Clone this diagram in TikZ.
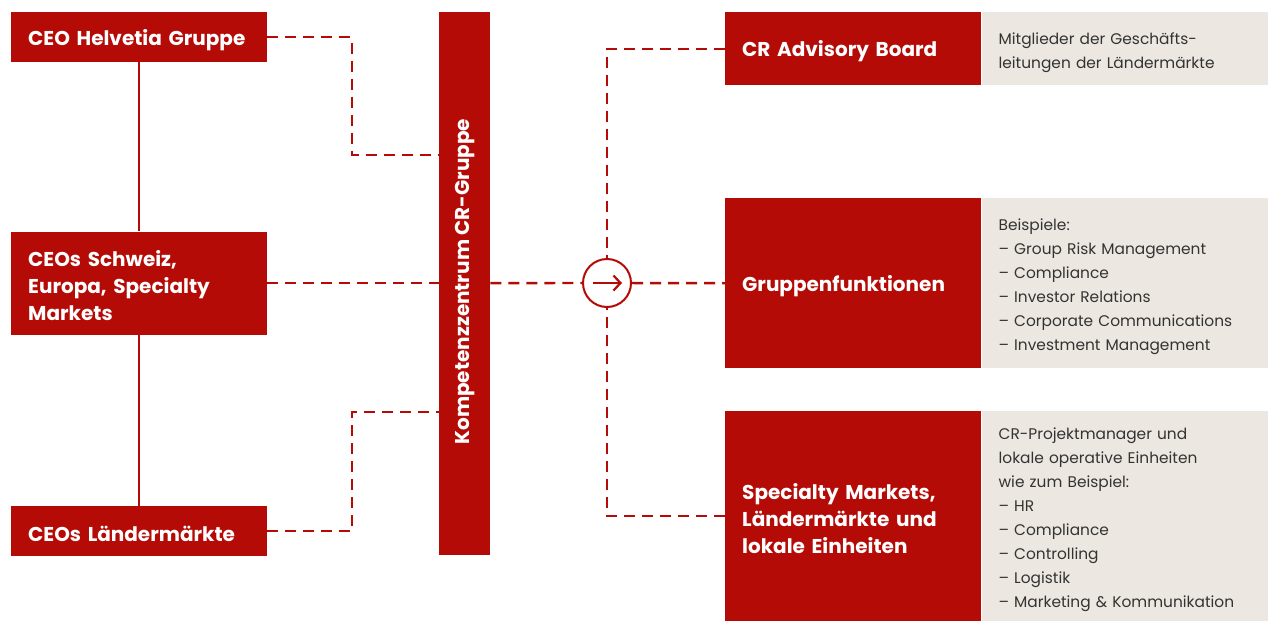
\documentclass[tikz,border=0pt]{standalone}
\usepackage{fontspec}
\setmainfont{Poppins}
\usetikzlibrary{arrows.meta,positioning}
\definecolor{hred}{HTML}{B50B07}
\definecolor{hsand}{HTML}{ECE8E1}
\definecolor{hink}{HTML}{333333}

\begin{document}
\begin{tikzpicture}[x=1pt,y=-1pt,
 org/.style={fill=hred,text=white,font=\fontsize{20}{27}\selectfont\bfseries,inner xsep=17pt,inner ysep=0pt,text width=222pt,align=left,execute at begin node={\rule{0pt}{21pt}}},
 note/.style={fill=hsand,text=hink,font=\fontsize{15.4}{24}\selectfont,inner xsep=17pt,inner ysep=0pt,text width=253pt,align=left,execute at begin node={\rule{0pt}{19.5pt}}},
 dsh/.style={draw=hred,line width=2.4pt,dash pattern=on 11pt off 7pt},
 tie/.style={draw=hred,line width=2pt}]
\useasboundingbox (0,0) rectangle (1268,621);
% left column
\node[org,minimum height=50pt,anchor=north west] (ceo) at (11,12) {CEO Helvetia Gruppe};
\node[org,minimum height=103pt,below=169pt of ceo] (reg) {CEOs Schweiz,\\Europa, Specialty\\Markets};
\node[org,minimum height=50pt,below=171pt of reg] (lm) {CEOs Ländermärkte};
\draw[tie] (ceo) -- (reg);
\draw[tie] (reg) -- (lm);
% centre bar
\node[fill=hred,minimum width=51pt,minimum height=543pt,inner sep=0pt,anchor=north west] (kc) at (439,12) {};
\node[rotate=90,text=white,font=\fontsize{20}{27}\selectfont\bfseries,xshift=2pt] (kct) at (kc.center) {Kompetenzzentrum CR-Gruppe};
% right column
\node[org,minimum height=73pt,anchor=north west] (adv) at (725,12) {CR Advisory Board};
\node[note,minimum height=73pt,right=0pt of adv] (advx) {Mitglieder der Geschäfts-\\leitungen der Ländermärkte};
\node[org,minimum height=170pt,anchor=north west] (grp) at (725,198) {Gruppenfunktionen};
\node[note,minimum height=170pt,right=0pt of grp] (grpx) {Beispiele:\\– Group Risk Management\\– Compliance\\– Investor Relations\\– Corporate Communications\\– Investment Management};
\node[org,minimum height=210pt,anchor=north west] (spec) at (725,411) {Specialty Markets,\\Ländermärkte und\\lokale Einheiten};
\node[note,minimum height=210pt,right=0pt of spec] (specx) {CR-Projektmanager und\\lokale operative Einheiten\\wie zum Beispiel:\\– HR\\– Compliance\\– Controlling\\– Logistik\\– Marketing \& Kommunikation};
% hub
\node[circle,draw=hred,line width=2pt,minimum size=48pt,inner sep=0pt] (hub) at (607,283) {};
\draw[hred,line width=2.2pt,-{Straight Barb[length=7pt,width=15pt]}] (hub.center) ++(-14,0) -- ++(29,0);
% dashed links
\coordinate (k1) at (352,155);
\coordinate (k2) at (352,412);
\draw[dsh] (ceo.east) -| (k1) -- (k1 -| kc.west);
\draw[dsh] (lm.east) -| (k2) -- (k2 -| kc.west);
\draw[dsh] (reg.east) -- (reg.east -| kc.west);
\draw[dsh] (reg.east -| kc.east) -- (hub);
\draw[dsh] (hub) -- (grp.west);
\draw[dsh] (adv.west) -| (hub);
\draw[dsh] (spec.west) -| (hub);
\end{tikzpicture}
\end{document}
